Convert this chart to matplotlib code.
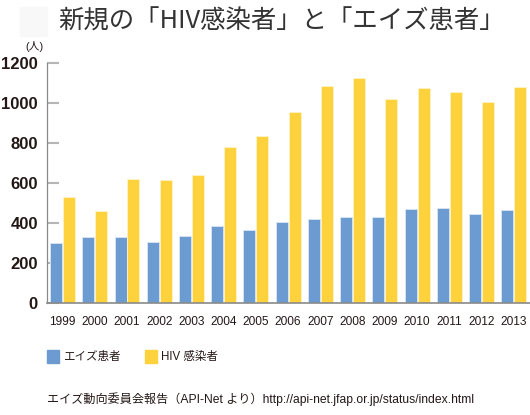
import matplotlib
matplotlib.use("Agg")
import matplotlib.pyplot as plt
from matplotlib.patches import Rectangle
import numpy as np

years = ["1999", "2000", "2001", "2002", "2003", "2004", "2005", "2006",
         "2007", "2008", "2009", "2010", "2011", "2012", "2013"]
aids = [300, 329, 332, 308, 336, 385, 367, 406, 418, 431, 431, 469, 473, 447, 467]
hiv = [530, 462, 621, 614, 640, 780, 832, 952, 1082, 1126, 1021, 1075, 1056, 1002, 1077]
yticks = [0, 200, 400, 600, 800, 1000, 1200]

blue = "#6b9bd1"
yellow = "#fed23c"
jp = ["Noto Sans CJK JP", "DejaVu Sans"]
num = ["Liberation Sans", "DejaVu Sans"]
mix = ["Liberation Sans", "Noto Sans CJK JP"]

fig = plt.figure(figsize=(5.3, 4.15), dpi=100)
ax = fig.add_axes([47 / 530, (415 - 303.3) / 415, 483 / 530, 240.6 / 415])

x = np.arange(len(years))
w = 0.372
ax.bar(x - 0.2, aids, w, color=blue, edgecolor="#dbe6f3", linewidth=0.6, zorder=2)
ax.bar(x + 0.2, hiv, w, color=yellow, edgecolor="#fff3c8", linewidth=0.6, zorder=2)

ax.set_xlim(-0.48, 14.5)
ax.set_ylim(0, 1200)
ax.set_yticks(yticks)
ax.set_yticklabels([str(v) for v in yticks], family=num, fontsize=12, fontweight="bold", color="#231815")
ax.tick_params(axis="y", direction="in", length=8.5, width=1.5, color="#b5b5b5", pad=6.5)
ax.set_xticks(x)
ax.set_xticklabels(years, family=num, fontsize=8.6, color="#231815")
ax.tick_params(axis="x", length=0, pad=9.5)

for s in ["top", "right"]:
    ax.spines[s].set_visible(False)
ax.spines["left"].set_color("#8a8a8a")
ax.spines["bottom"].set_color("#8a8a8a")
ax.spines["left"].set_linewidth(0.9)
ax.spines["bottom"].set_linewidth(1.2)

# title and unit
fig.patches.append(Rectangle((20 / 530, 1 - 36 / 415), 27 / 530, 29 / 415,
                             transform=fig.transFigure, color="#f8f8f8", zorder=0))
fig.text(58 / 530, 1 - 22 / 415, "新規の「HIV感染者」と「エイズ患者」", family=jp,
         fontsize=18.3, color="#333333", va="center", ha="left")
fig.text(25 / 530, 1 - 47 / 415, "(人)", family=mix, fontsize=7.8, color="#231815",
         va="center", ha="left")

# legend
fig.patches.append(Rectangle((47 / 530, 1 - 363 / 415), 12 / 530, 13 / 415,
                             transform=fig.transFigure, color=blue))
fig.text(63 / 530, 1 - 356.5 / 415, "エイズ患者", family=jp, fontsize=8.3, color="#231815",
         va="center", ha="left")
fig.patches.append(Rectangle((145 / 530, 1 - 363 / 415), 12 / 530, 13 / 415,
                             transform=fig.transFigure, color=yellow))
fig.text(161 / 530, 1 - 356.5 / 415, "HIV 感染者", family=mix, fontsize=8.3, color="#231815",
         va="center", ha="left")

# source
fig.text(47 / 530, 1 - 399 / 415,
         "エイズ動向委員会報告（API-Net より）http://api-net.jfap.or.jp/status/index.html",
         family=mix, fontsize=8.7, color="#231815", va="center", ha="left")

fig.savefig("out.png", dpi=100)
